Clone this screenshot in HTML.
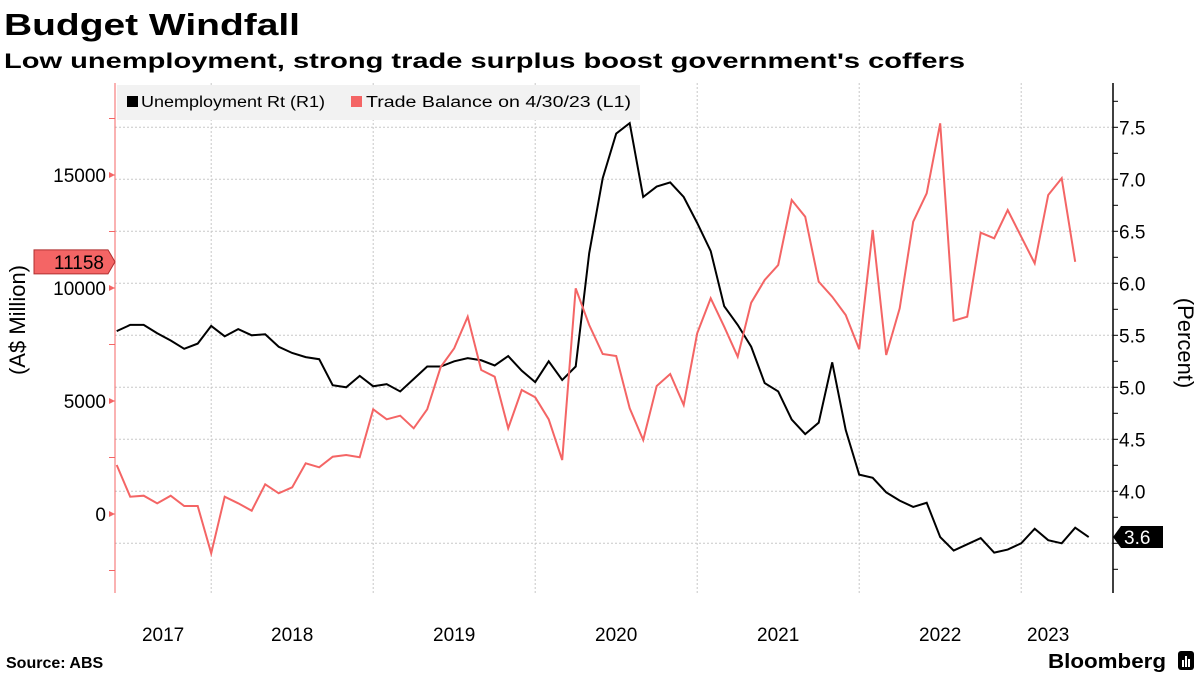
<!DOCTYPE html>
<html><head><meta charset="utf-8"><style>
html,body{margin:0;padding:0;background:#fff;}
svg{display:block;font-family:"Liberation Sans","DejaVu Sans",sans-serif;}
</style></head><body>
<svg id="chart" width="1200" height="675" viewBox="0 0 1200 675" xmlns="http://www.w3.org/2000/svg">
<text x="4" y="35" font-size="31" font-weight="bold" textLength="296" lengthAdjust="spacingAndGlyphs">Budget Windfall</text>
<text x="4" y="68" font-size="21" font-weight="bold" textLength="961" lengthAdjust="spacingAndGlyphs">Low unemployment, strong trade surplus boost government's coffers</text>
<g id="grid"></g>
<rect x="117" y="85" width="523" height="35" fill="#f2f2f2"/>
<g>
<rect x="127" y="96" width="11" height="11" fill="#000"/>
<text x="141" y="107" font-size="15.5" textLength="184" lengthAdjust="spacingAndGlyphs">Unemployment Rt (R1)</text></g>
<g>
<rect x="351" y="96" width="11" height="11" fill="#f46565"/>
<text x="366" y="107" font-size="15.5" textLength="265" lengthAdjust="spacingAndGlyphs">Trade Balance on 4/30/23 (L1)</text></g>
<g id="axes"></g>
<g id="series"></g>
<text transform="translate(25,320) rotate(-90)" text-anchor="middle" font-size="22">(A$ Million)</text>
<text transform="translate(1178,343) rotate(90)" text-anchor="middle" font-size="22">(Percent)</text>
<text x="6" y="668" font-size="16" font-weight="bold">Source: ABS</text>
<g>
<text x="1048" y="668" font-size="20" font-weight="bold" textLength="118" lengthAdjust="spacingAndGlyphs">Bloomberg</text>
<rect x="1178" y="651" width="16" height="19" rx="3" fill="#000"/>
<rect x="1182" y="660" width="2" height="7" fill="#fff"/><rect x="1185" y="656" width="2" height="11" fill="#fff"/><rect x="1188" y="659" width="2" height="8" fill="#fff"/>
</g>
</svg>
<script>
const years = ["2017","2018","2019","2020","2021","2022","2023"];
const leftTicks = [0,5000,10000,15000];
const rightTicks = [3.5,4.0,4.5,5.0,5.5,6.0,6.5,7.0,7.5];
const unemployment = [5.54,5.60,5.60,5.52,5.45,5.37,5.42,5.59,5.49,5.56,5.50,5.51,5.39,5.33,5.29,5.27,5.02,5.00,5.11,5.01,5.03,4.96,5.08,5.20,5.20,5.25,5.28,5.26,5.21,5.30,5.16,5.05,5.25,5.07,5.20,6.29,7.01,7.44,7.54,6.83,6.93,6.97,6.83,6.58,6.31,5.78,5.60,5.39,5.04,4.96,4.69,4.55,4.66,5.24,4.59,4.16,4.13,3.99,3.91,3.85,3.89,3.56,3.43,3.49,3.55,3.41,3.44,3.50,3.64,3.53,3.50,3.65,3.56];
const tradeBalance = [2168,765,810,473,810,354,354,-1739,765,473,146,1314,916,1181,2243,2066,2535,2611,2509,4633,4190,4350,3792,4633,6504,7332,8730,6372,6075,3792,5487,5164,4190,2389,9987,8363,7080,6991,4677,3274,5664,6195,4823,7996,9544,8288,6960,9350,10354,11018,13894,13155,10279,9615,8805,7288,12566,7035,9102,12934,14190,17288,8553,8730,12447,12199,13451,12270,11093,14115,14854,11158];
const NS="http://www.w3.org/2000/svg";
const X0=116.7, DX=13.5, L=115, R=1113, T=83, B=593;
const xPos=i=>X0+i*DX;
const yL=v=>514-v*0.0226;
const yR=v=>127.3+(7.5-v)*104;
function mk(tag,attrs,parent){const e=document.createElementNS(NS,tag);for(const k in attrs)e.setAttribute(k,attrs[k]);parent.appendChild(e);return e;}
const grid=document.getElementById('grid'),axes=document.getElementById('axes'),series=document.getElementById('series');
// horizontal gridlines at right ticks
rightTicks.forEach(v=>{const l=mk('line',{x1:L,x2:R,y1:yR(v),y2:yR(v),stroke:'#c8c8c8','stroke-dasharray':'2,2'},grid);

});
// vertical gridlines at year starts (Jan 2018 = index 7)
for(let k=1;k<years.length;k++){const x=xPos(7+(k-1)*12);const l=mk('line',{x1:x,x2:x,y1:T,y2:B,stroke:'#c8c8c8','stroke-dasharray':'2,2'},grid);

}
// year labels
years.forEach((y,k)=>{const start=k===0?L:xPos(7+(k-1)*12);const end=k===years.length-1?xPos(71):xPos(7+k*12);
const t=mk('text',{x:(start+end)/2,y:641,'text-anchor':'middle','font-size':'19'},axes);t.textContent=y;

});
// left axis
const la=mk('line',{x1:L,x2:L,y1:T,y2:B,stroke:'#f46565','stroke-width':1},axes);


for(let v=-2500;v<=17500;v+=2500){const y=yL(v);if(y<T||y>B)continue;mk('line',{x1:L-6,x2:L,y1:y,y2:y,stroke:'#f46565'},axes);}
leftTicks.forEach(v=>{mk('polygon',{points:`${L-6},${yL(v)-3} ${L},${yL(v)} ${L-6},${yL(v)+3}`,fill:'#f46565'},axes);
const t=mk('text',{x:L-9,y:yL(v)+7,'text-anchor':'end','font-size':'19'},axes);t.textContent=v;

});
// right axis
const ra=mk('line',{x1:R,x2:R,y1:T,y2:B,stroke:'#000','stroke-width':1.5},axes);


for(let v=3.25;v<=7.76;v+=0.25){const y=yR(v);mk('line',{x1:R,x2:R+5,y1:y,y2:y,stroke:'#000'},axes);}
rightTicks.forEach(v=>{if(v===3.5)return;const t=mk('text',{x:R+6,y:yR(v)+7,'font-size':'19'},axes);t.textContent=v.toFixed(1);

});
// series
const pu=mk('polyline',{points:unemployment.map((v,i)=>xPos(i)+','+yR(v)).join(' '),fill:'none',stroke:'#000','stroke-width':2},series);


const pt=mk('polyline',{points:tradeBalance.map((v,i)=>xPos(i)+','+yL(v)).join(' '),fill:'none',stroke:'#f46565','stroke-width':2},series);


// last-value tags
const lu=unemployment[unemployment.length-1], yu=yR(lu);
const tg1=mk('g',{},axes);


mk('polygon',{points:`${R},${yu} ${R+8},${yu-11} ${R+50},${yu-11} ${R+50},${yu+11} ${R+8},${yu+11}`,fill:'#000'},tg1);
const tu=mk('text',{x:R+11,y:yu+7,'font-size':'19',fill:'#fff'},tg1);tu.textContent=lu.toFixed(1);
const lt=tradeBalance[tradeBalance.length-1], yt=yL(lt);
const tg2=mk('g',{},axes);


mk('polygon',{points:`34,${yt-12} ${L-7},${yt-12} ${L},${yt} ${L-7},${yt+12} 34,${yt+12}`,fill:'#f46565',stroke:'#b03030','stroke-width':1},tg2);
const tt=mk('text',{x:L-11,y:yt+7,'font-size':'19','text-anchor':'end',fill:'#000'},tg2);tt.textContent=lt;
</script>
</body></html>
